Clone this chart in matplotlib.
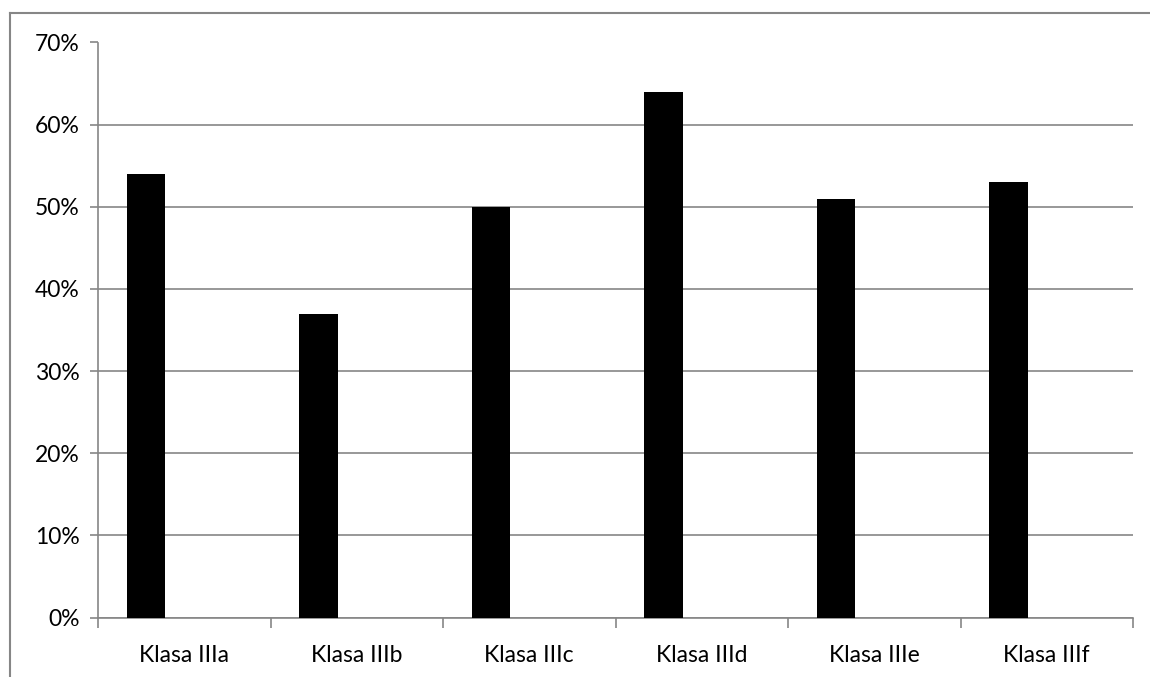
import matplotlib
matplotlib.use("Agg")
import matplotlib.pyplot as plt
from matplotlib.lines import Line2D
from matplotlib.ticker import FuncFormatter, MultipleLocator

categories = ["Klasa IIIa", "Klasa IIIb", "Klasa IIIc", "Klasa IIId", "Klasa IIIe", "Klasa IIIf"]
values = [0.54, 0.37, 0.50, 0.64, 0.51, 0.53]

plt.rcParams['font.family'] = ['Lato', 'DejaVu Sans']
W, H = 1150, 677
fig = plt.figure(figsize=(W / 100, H / 100), dpi=100)
ax = fig.add_axes([98 / W, 1 - 617.5 / H, (1133 - 98) / W, (617.5 - 42.5) / H])

grey = "#868686"
n = len(categories)
lefts = [i + 0.168 for i in range(n)]
ax.bar(lefts, values, width=0.222, align="edge", color="black", zorder=3)

ax.set_xlim(0, n)
ax.set_ylim(0, 0.70)
ax.yaxis.set_major_locator(MultipleLocator(0.10))
ax.yaxis.set_major_formatter(FuncFormatter(lambda v, p: f"{round(v * 100)}%"))
ax.grid(axis="y", color=grey, linewidth=1.2, zorder=0)
ax.set_xticks(range(n + 1))
ax.set_xticklabels([])
ax.set_xticks([i + 0.5 for i in range(n)], minor=True)
ax.set_xticklabels(categories, minor=True)
ax.tick_params(axis="x", which="major", length=7, width=1.2, color=grey)
ax.tick_params(axis="x", which="minor", length=0, pad=20, labelsize=16.5)
ax.tick_params(axis="y", length=6, width=1.2, color=grey, labelsize=16.5, pad=7)
for s in ["top", "right"]:
    ax.spines[s].set_visible(False)
for s in ["left", "bottom"]:
    ax.spines[s].set_color(grey)
    ax.spines[s].set_linewidth(1.2)

fig.add_artist(Line2D([10 / W, 10 / W], [0, 1 - 13 / H], color=grey, linewidth=1.5))
fig.add_artist(Line2D([10 / W, 1], [1 - 13 / H, 1 - 13 / H], color=grey, linewidth=1.5))

fig.savefig("out.png", dpi=100)
